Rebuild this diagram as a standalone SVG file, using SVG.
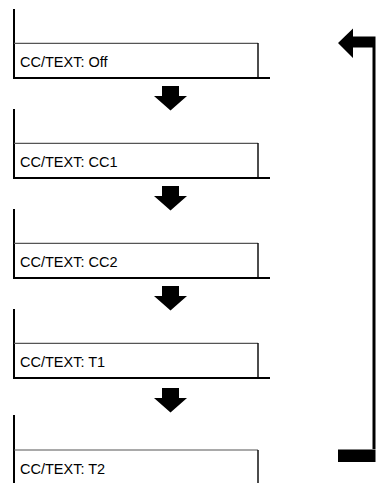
<svg xmlns="http://www.w3.org/2000/svg" width="378" height="483" viewBox="0 0 378 483">
<style>
.lft{stroke:#000;stroke-width:2;fill:none}
.top{stroke:#555;stroke-width:1.2;fill:none}
.rgt{stroke:#111;stroke-width:1.5;fill:none}
.bot{stroke:#000;stroke-width:2.2;fill:none}
.lbl{font-family:"Liberation Sans",Arial,sans-serif;font-size:14.5px;fill:#000}
.arr{fill:#000}
</style>
<defs>
<path id="down" d="M162,86 H179 V96 H187 L170.5,110.5 L154,96 H162 Z"/>
</defs>
<rect width="378" height="483" fill="#fff"/>
<g id="node-off">
<path class="lft" d="M14,9 V78"/>
<path class="top" d="M14,43.3 H258"/>
<path class="rgt" d="M258,43 V78"/>
<path class="bot" d="M13,78 H270"/>
<text class="lbl" x="20" y="67">CC/TEXT: Off</text>
</g>
<g id="node-cc1">
<path class="lft" d="M14,109 V178"/>
<path class="top" d="M14,143.3 H258"/>
<path class="rgt" d="M258,143 V178"/>
<path class="bot" d="M13,178 H270"/>
<text class="lbl" x="20" y="167">CC/TEXT: CC1</text>
</g>
<g id="node-cc2">
<path class="lft" d="M14,209 V278"/>
<path class="top" d="M14,243.3 H258"/>
<path class="rgt" d="M258,243 V278"/>
<path class="bot" d="M13,278 H270"/>
<text class="lbl" x="20" y="267">CC/TEXT: CC2</text>
</g>
<g id="node-t1">
<path class="lft" d="M14,309 V378"/>
<path class="top" d="M14,343.3 H258"/>
<path class="rgt" d="M258,343 V378"/>
<path class="bot" d="M13,378 H270"/>
<text class="lbl" x="20" y="367">CC/TEXT: T1</text>
</g>
<g id="node-t2">
<path class="lft" d="M14,415 V484"/>
<path class="top" d="M14,450 H258"/>
<path class="rgt" d="M258,450 V484"/>
<text class="lbl" x="20" y="473.5">CC/TEXT: T2</text>
</g>
<g id="connectors">
<use href="#down" class="arr"/>
<use href="#down" class="arr" y="100"/>
<use href="#down" class="arr" y="200"/>
<use href="#down" class="arr" y="302"/>
<path class="arr" d="M338,449 H375.5 V36.5 H353 V28.5 L338,43 L353,58 V47.5 H372.5 V449 Z"/>
<rect class="arr" x="338" y="449.5" width="37.5" height="12.5"/>
</g>
</svg>
